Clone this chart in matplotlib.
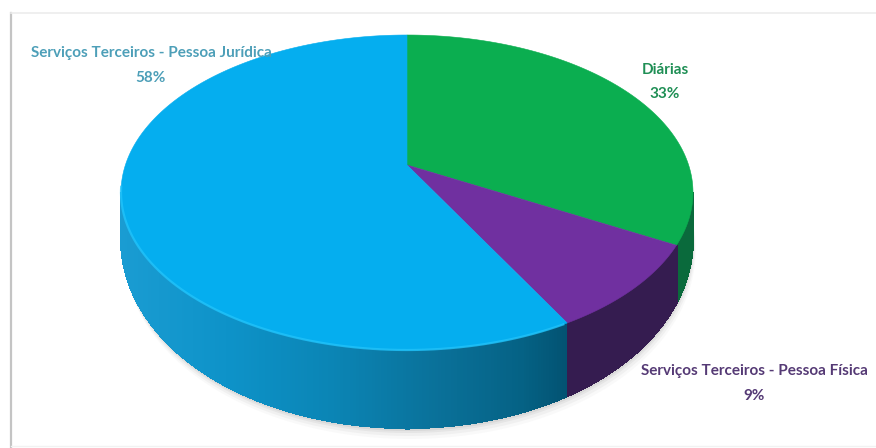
#!/usr/bin/env python3
"""Perspective 3D pie of expenses by category, saved to out.png."""

import numpy as np
import matplotlib.pyplot as plt
from matplotlib.patches import Polygon

labels = ["Diárias", "Serviços Terceiros - Pessoa Física", "Serviços Terceiros - Pessoa Jurídica"]
shares = [33, 9, 58]
top_colors = ["#0bae50", "#7030a0", "#05aeef"]
text_colors = ["#1f8f55", "#553a75", "#4d9fb8"]
label_xy = [(665, 82), (754, 383), (151, 66)]

plt.rcParams["font.family"] = ["Lato", "DejaVu Sans"]

# pie geometry in pixels
CX, CY = 407, 165
A, B, K = 281.6, 152.7, 0.1746


def project(t, lower=False):
    """Map clock angle t (radians from 12 o'clock) to the tilted disc."""
    u, v = np.sin(t), np.cos(t)
    w = 1 + K * v
    x = CX + A * u / w
    y = CY - B * v / w
    if lower:
        # wall gets taller toward the viewer
        return x, y + 39 - 39 * v
    return x, y


def side_color(idx, x):
    """Horizontal shading of the side wall."""
    if idx == 0:
        return "#0a6a3c"
    if idx == 1:
        return "#351c50"
    stops = [120, 230, 330, 430, 520, 575]
    rgb = np.array([[0x1a, 0x9c, 0xd2], [0x0d, 0x92, 0xc8], [0x0b, 0x85, 0xb5],
                    [0x0a, 0x72, 0x9b], [0x05, 0x62, 0x85], [0x02, 0x4f, 0x6e]]) / 255
    return [np.interp(x, stops, rgb[:, i]) for i in range(3)]


fig = plt.figure(figsize=(8.76, 4.48), dpi=100)
ax = fig.add_axes([0, 0, 1, 1])
ax.set_xlim(0, 876)
ax.set_ylim(448, 0)
ax.axis("off")

# frame lines
ax.plot([11, 11], [13, 448], color="#c4c4c4", lw=1.6)
ax.plot([11, 876], [13, 13], color="#ececec", lw=1.2)
ax.plot([11, 876], [446, 446], color="#f2f2f2", lw=1.0)

edges = np.cumsum([0] + shares) / sum(shares) * 2 * np.pi

# soft shadow under the front edge
front = np.radians(np.linspace(92, 268, 160))
for off, alpha in zip([11, 8, 5, 3], [0.03, 0.05, 0.07, 0.09]):
    xs, ys = project(front, True)
    ax.fill(np.r_[xs + off * 0.25, xs[::-1]], np.r_[ys + off, ys[::-1] - 20],
            color="#555555", alpha=alpha, lw=0, zorder=1)

# side wall, drawn as thin shaded strips
wall = np.radians(np.linspace(100, 260, 300))
for t0, t1 in zip(wall[:-1], wall[1:]):
    mid = (t0 + t1) / 2
    idx = int(np.searchsorted(edges, mid) - 1)
    x0, y0 = project(t0)
    x1, y1 = project(t1)
    x2, y2 = project(t1, True)
    x3, y3 = project(t0, True)
    c = side_color(idx, (x0 + x1) / 2)
    ax.add_patch(Polygon([(x0, y0), (x1, y1), (x2, y2), (x3, y3)], closed=True,
                         facecolor=c, edgecolor=c, lw=0.8, antialiased=False, zorder=2))

# top face slices
for i, share in enumerate(shares):
    t = np.linspace(edges[i], edges[i + 1], 200)
    xs, ys = project(t)
    ax.fill(np.r_[CX, xs], np.r_[CY, ys], color=top_colors[i], lw=0.4, zorder=3)

# light bevel along the front of the blue slice
t = np.radians(np.linspace(152, 262, 150))
xs, ys = project(t)
ax.plot(xs, ys, color="#22c3fa", lw=1.6, alpha=0.8, zorder=4)

for name, share, color, (x, y) in zip(labels, shares, text_colors, label_xy):
    ax.text(x, y, f"{name}\n{share}%", ha="center", va="center", fontsize=11,
            fontweight="bold", color=color, linespacing=2.0, zorder=5)

fig.savefig("out.png", dpi=100)
